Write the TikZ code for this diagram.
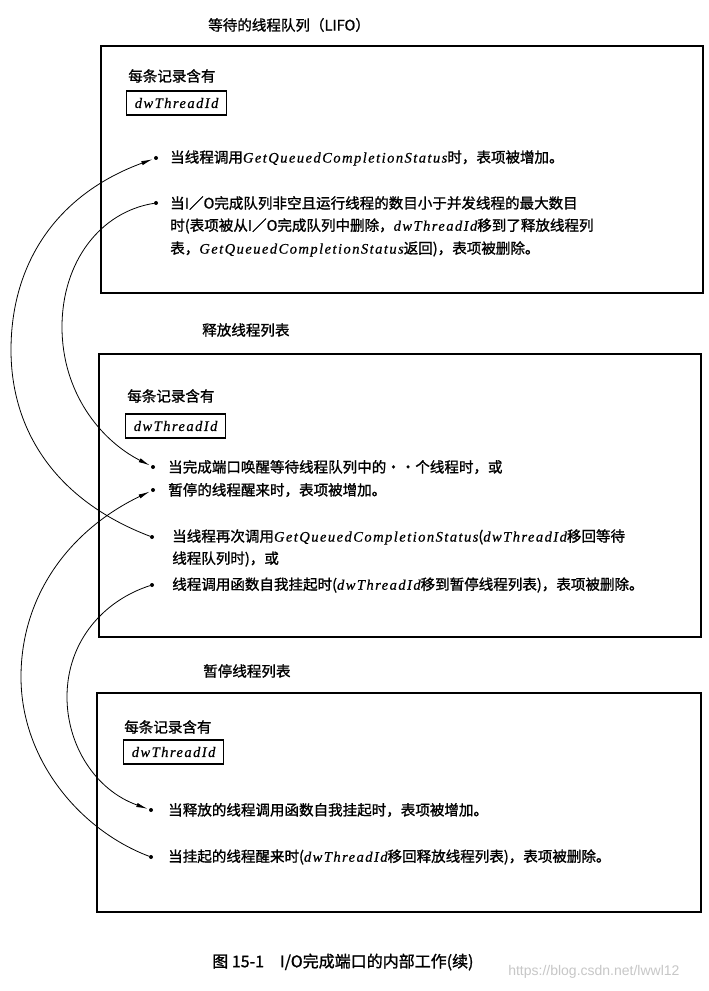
\documentclass[tikz,border=0pt]{standalone}
\usepackage{fontspec}
\setmainfont{Liberation Serif}
\newfontfamily\cjk{Noto Sans CJK SC}[FakeBold=1.2]
\newfontfamily\latit[LetterSpace=10,FakeBold=0.6]{Liberation Serif}
\newfontfamily\wmfont{Liberation Sans}
\usetikzlibrary{arrows.meta}
\newcommand\en[1]{{\latit\itshape #1}}
\tikzset{
  frame/.style={draw, line width=1.1pt},
  dwbox/.style={draw, line width=0.9pt, minimum width=75pt, minimum height=18pt, inner sep=1pt, anchor=west, font=\fontsize{10.9}{13}\selectfont},
  txt/.style={anchor=west, inner sep=0pt, font=\cjk\fontsize{10.9}{13}\selectfont},
  dot/.style={circle, fill, inner sep=0pt, minimum size=3pt},
  link/.style={line width=0.6pt},
  arr/.style={link, -{Latex[length=8.5pt,width=3.2pt]}, shorten >=1pt},
}
\begin{document}
\begin{tikzpicture}[x=0.75pt,y=-0.75pt]
\fill[white] (0,0) rectangle (708,991);
\useasboundingbox (0,0) rectangle (708,991);

% ---------- box 1 ----------
\node[txt] (title1) at (208,25) {等待的线程队列（LIFO）};
\draw[frame] (101,46) rectangle (703,293);
\node[txt] (h1) at (128,76) {每条记录含有};
\node[dwbox] (dw1) at (126,103) {\en{dwThreadId}};
\node[dot] (a1) at (156,158) {};
\node[txt] (t11) at (170,158) {当线程调用\en{GetQueuedCompletionStatus}时，表项被增加。};
\node[dot] (a2) at (156,203) {};
\node[txt] (t21) at (170,203) {当I／O完成队列非空且运行线程的数目小于并发线程的最大数目};
\node[txt] (t22) at (170,226) {时(表项被从I／O完成队列中删除，\en{dwThreadId}移到了释放线程列};
\node[txt] (t23) at (170,249) {表，\en{GetQueuedCompletionStatus}返回)，表项被删除。};

% ---------- box 2 ----------
\node[txt] (title2) at (202,330) {释放线程列表};
\draw[frame] (99,354) rectangle (701,637);
\node[txt] (h2) at (127,396) {每条记录含有};
\node[dwbox] (dw2) at (125,426) {\en{dwThreadId}};
\node[dot] (c1) at (153,467) {};
\node[txt] (u11) at (168,467) {当完成端口唤醒等待线程队列中的··个线程时，或};
\node[dot] (c2) at (153,490) {};
\node[txt] (u12) at (168,490) {暂停的线程醒来时，表项被增加。};
\node[dot] (c3) at (152,537) {};
\node[txt] (u21) at (172,537) {当线程再次调用\en{GetQueuedCompletionStatus}(\en{dwThreadId}移回等待};
\node[txt] (u22) at (172,559) {线程队列时)，或};
\node[dot] (c4) at (152,585) {};
\node[txt] (u31) at (172,585) {线程调用函数自我挂起时(\en{dwThreadId}移到暂停线程列表)，表项被删除。};

% ---------- box 3 ----------
\node[txt] (title3) at (203,671) {暂停线程列表};
\draw[frame] (97,693) rectangle (701,912);
\node[txt] (h3) at (124,727) {每条记录含有};
\node[dwbox] (dw3) at (123,752) {\en{dwThreadId}};
\node[dot] (d1) at (151,810) {};
\node[txt] (v1) at (168,810) {当释放的线程调用函数自我挂起时，表项被增加。};
\node[dot] (d2) at (151,857) {};
\node[txt] (v2) at (168,857) {当挂起的线程醒来时(\en{dwThreadId}移回释放线程列表)，表项被删除。};

% ---------- connectors ----------
\draw[arr] (c3) .. controls (55,500) and (11,430) .. (11,350) .. controls (11,265) and (55,195) .. (a1);
\draw[arr] (a2) .. controls (100,212) and (62,262) .. (62,327) .. controls (62,392) and (100,440) .. (c1);
\draw[arr] (d2) .. controls (80,830) and (21,760) .. (21,677) .. controls (21,595) and (70,530) .. (c2);
\draw[arr] (c4) .. controls (105,600) and (67,640) .. (67,697) .. controls (67,745) and (95,790) .. (d1);

% ---------- caption ----------
\node[anchor=west, inner sep=0pt, font=\cjk\fontsize{12}{14}\selectfont] (cap) at (212,962) {图 15-1\quad I/O完成端口的内部工作(续)};
\node[anchor=west, inner sep=0pt, text=black!22, font=\wmfont\fontsize{10.5}{12}\selectfont] (wm) at (508,972) {https://blog.csdn.net/lwwl12};
\end{tikzpicture}
\end{document}
